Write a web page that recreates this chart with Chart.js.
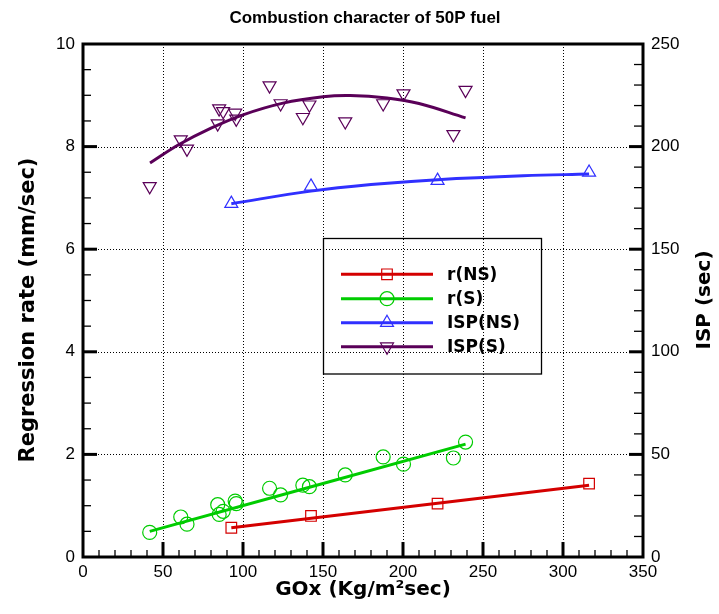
<!DOCTYPE html>
<html>
<head>
<meta charset="utf-8">
<title>Combustion character of 50P fuel</title>
<script src="https://cdn.jsdelivr.net/npm/chart.js@4.4.1/dist/chart.umd.min.js"></script>
<style>
  html, body { margin: 0; padding: 0; background: #fff; }
  #chart { display: block; }
</style>
</head>
<body>
<canvas id="chart" width="719" height="614"></canvas>
<script>
// Measured points, GOx in Kg/m2sec
const goxS = [41.7, 61.1, 65.0, 84.2, 85.1, 87.6, 95.1, 95.8, 116.6, 123.5, 137.4, 141.5, 163.9, 187.6, 200.3, 231.5, 239.1];
const rS = [0.48, 0.78, 0.64, 1.02, 0.83, 0.89, 1.09, 1.04, 1.34, 1.21, 1.40, 1.37, 1.60, 1.95, 1.81, 1.93, 2.24];
const ispS = [180.6, 203.4, 198.9, 211.2, 218.5, 217.2, 216.4, 213.5, 229.7, 221.0, 214.3, 220.4, 212.2, 221.0, 225.8, 206.0, 227.5];

const goxNS = [92.7, 142.5, 221.6, 316.3];
const rNS = [0.57, 0.80, 1.04, 1.43];
const ispNS = [172.2, 180.6, 183.4, 187.4];

// Fit curves
const rNSFitX = [92.7, 316.3];
const rNSFitY = [0.57, 1.40];
const rSFitX = [41.7, 239.1];
const rSFitY = [0.50, 2.20];
const ispNSFitX = [92.7, 142.4, 180, 221.6, 275, 316.3];
const ispNSFitY = [172.2, 178.3, 181.5, 183.9, 185.8, 186.6];
const ispSFitX = [41.9, 60, 80, 100, 125, 150, 167, 190, 210, 239.1];
const ispSFitY = [192.0, 201.0, 209.0, 215.5, 221.2, 224.3, 224.9, 223.7, 221.0, 214.0];

const seriesNames = ['r(NS)', 'r(S)', 'ISP(NS)', 'ISP(S)'];
const seriesColors = ['#d40000', '#00cc00', '#3030ff', '#5a0058'];
const seriesStyles = ['rect', 'circle', 'triangle', 'triangle'];
const seriesRotation = [0, 0, 0, 180];
const seriesRadius = [7.5, 7, 7.5, 7.5];

const chartTitle = 'Combustion character of 50P fuel';
const xTitle = 'GOx (Kg/m\u00b2sec)';
const yTitle = 'Regression rate (mm/sec)';
const y2Title = 'ISP (sec)';

function toPoints(xs, ys) {
    return xs.map((x, i) => ({ x: x, y: ys[i] }));
}

function markerSet(i, xs, ys, axis) {
    return {
        label: seriesNames[i],
        data: toPoints(xs, ys),
        yAxisID: axis,
        showLine: false,
        pointStyle: seriesStyles[i],
        rotation: seriesRotation[i],
        pointRadius: seriesRadius[i],
        pointBorderWidth: 1.2,
        pointBorderColor: seriesColors[i],
        pointBackgroundColor: 'rgba(0,0,0,0)',
    };
}

function fitSet(i, xs, ys, axis) {
    return {
        label: seriesNames[i] + ' fit',
        data: toPoints(xs, ys),
        yAxisID: axis,
        showLine: true,
        borderColor: seriesColors[i],
        borderWidth: 3,
        tension: 0.4,
        pointRadius: 0,
    };
}

const tickFont = { family: '"Liberation Sans", Arial, sans-serif', size: 17 };

// grid, frame, inward ticks, legend and titles
const framePlugin = {
    id: 'frame',
    beforeDatasetsDraw(chart) {
        const ctx = chart.ctx;
        const a = chart.chartArea;
        const xs = chart.scales.x;
        const ys = chart.scales.y;
        ctx.save();
        ctx.strokeStyle = '#000';
        ctx.lineWidth = 1;
        ctx.setLineDash([1, 2]);
        for (let v = 50; v < 350; v += 50) {
            const px = Math.round(xs.getPixelForValue(v)) + 0.5;
            ctx.beginPath();
            ctx.moveTo(px, a.top);
            ctx.lineTo(px, a.bottom);
            ctx.stroke();
        }
        for (let v = 2; v < 10; v += 2) {
            const py = Math.round(ys.getPixelForValue(v)) + 0.5;
            ctx.beginPath();
            ctx.moveTo(a.left, py);
            ctx.lineTo(a.right, py);
            ctx.stroke();
        }
        ctx.restore();
    },
    afterDatasetsDraw(chart) {
        const ctx = chart.ctx;
        const a = chart.chartArea;
        const xs = chart.scales.x;
        const ys = chart.scales.y;
        const y2 = chart.scales.y2;
        ctx.save();
        ctx.strokeStyle = '#000';

        // bottom ticks
        for (let v = 10; v < 350; v += 10) {
            const px = xs.getPixelForValue(v);
            const major = v % 50 === 0;
            ctx.lineWidth = major ? 3 : 1.3;
            ctx.beginPath();
            ctx.moveTo(px, a.bottom);
            ctx.lineTo(px, a.bottom - (major ? 15 : 7));
            ctx.stroke();
        }
        // left ticks
        for (let v = 0.5; v < 10; v += 0.5) {
            const py = ys.getPixelForValue(v);
            const major = v % 2 === 0;
            ctx.lineWidth = major ? 3 : 1.3;
            ctx.beginPath();
            ctx.moveTo(a.left, py);
            ctx.lineTo(a.left + (major ? 14 : 8), py);
            ctx.stroke();
        }
        // right ticks
        for (let v = 10; v < 250; v += 10) {
            const py = y2.getPixelForValue(v);
            const major = v % 50 === 0;
            ctx.lineWidth = major ? 3 : 1.3;
            ctx.beginPath();
            ctx.moveTo(a.right, py);
            ctx.lineTo(a.right - (major ? 14 : 9), py);
            ctx.stroke();
        }
        // frame
        ctx.lineWidth = 3;
        ctx.strokeRect(a.left, a.top, a.right - a.left, a.bottom - a.top);

        // legend
        ctx.lineWidth = 1.3;
        ctx.strokeRect(323.5, 238.5, 218, 135.5);
        const rows = [274.3, 298.7, 322.7, 346.7];
        ctx.font = 'bold 17px "DejaVu Sans", sans-serif';
        ctx.textAlign = 'left';
        ctx.textBaseline = 'middle';
        for (let i = 0; i < 4; i++) {
            ctx.strokeStyle = seriesColors[i];
            ctx.lineWidth = 3;
            ctx.beginPath();
            ctx.moveTo(341, rows[i]);
            ctx.lineTo(433, rows[i]);
            ctx.stroke();
            ctx.lineWidth = 1.2;
            ctx.fillStyle = 'rgba(0,0,0,0)';
            Chart.helpers.drawPoint(ctx, {
                pointStyle: seriesStyles[i],
                rotation: seriesRotation[i],
                radius: seriesRadius[i],
                borderWidth: 1.2,
            }, 387, rows[i]);
            ctx.fillStyle = '#000';
            ctx.fillText(seriesNames[i], 447, rows[i] + 1);
        }
        ctx.restore();
    },
    afterDraw(chart) {
        const ctx = chart.ctx;
        const a = chart.chartArea;
        ctx.save();
        ctx.fillStyle = '#000';
        ctx.textAlign = 'center';
        ctx.textBaseline = 'middle';
        ctx.font = 'bold 17px "Liberation Sans", Arial, sans-serif';
        ctx.fillText(chartTitle, 365, 18);
        ctx.font = 'bold 20px "DejaVu Sans", sans-serif';
        ctx.fillText(xTitle, (a.left + a.right) / 2, 590);

        ctx.save();
        ctx.translate(29, 310);
        ctx.rotate(-Math.PI / 2);
        ctx.font = 'bold 21px "DejaVu Sans", sans-serif';
        ctx.fillText(yTitle, 0, 0);
        ctx.restore();

        ctx.save();
        ctx.translate(705, 300);
        ctx.rotate(-Math.PI / 2);
        ctx.font = 'bold 20px "DejaVu Sans", sans-serif';
        ctx.fillText(y2Title, 0, 0);
        ctx.restore();
        ctx.restore();
    },
};

const ctx = document.getElementById('chart').getContext('2d');
const chart = new Chart(ctx, {
    type: 'scatter',
    data: {
        datasets: [
            markerSet(0, goxNS, rNS, 'y'),
            markerSet(1, goxS, rS, 'y'),
            markerSet(2, goxNS, ispNS, 'y2'),
            markerSet(3, goxS, ispS, 'y2'),
            fitSet(0, rNSFitX, rNSFitY, 'y'),
            fitSet(1, rSFitX, rSFitY, 'y'),
            fitSet(2, ispNSFitX, ispNSFitY, 'y2'),
            fitSet(3, ispSFitX, ispSFitY, 'y2'),
        ],
    },
    options: {
        responsive: false,
        animation: false,
        events: [],
        layout: { padding: { top: 44, left: 0, right: 0, bottom: 0 } },
        scales: {
            x: {
                type: 'linear',
                min: 0,
                max: 350,
                grid: { display: false, drawTicks: false },
                border: { display: false },
                ticks: { stepSize: 50, color: '#000', font: tickFont, padding: 5, maxRotation: 0 },
                afterFit: (s) => { s.height = 57; },
            },
            y: {
                type: 'linear',
                position: 'left',
                min: 0,
                max: 10,
                grid: { display: false, drawTicks: false },
                border: { display: false },
                ticks: { stepSize: 2, color: '#000', font: tickFont, padding: 8 },
                afterFit: (s) => { s.width = 83; },
            },
            y2: {
                type: 'linear',
                position: 'right',
                min: 0,
                max: 250,
                grid: { display: false, drawTicks: false },
                border: { display: false },
                ticks: { stepSize: 50, color: '#000', font: tickFont, padding: 8 },
                afterFit: (s) => { s.width = 76; },
            },
        },
        plugins: {
            legend: { display: false },
            title: { display: false },
            tooltip: { enabled: false },
        },
    },
    plugins: [framePlugin],
});
</script>
</body>
</html>
